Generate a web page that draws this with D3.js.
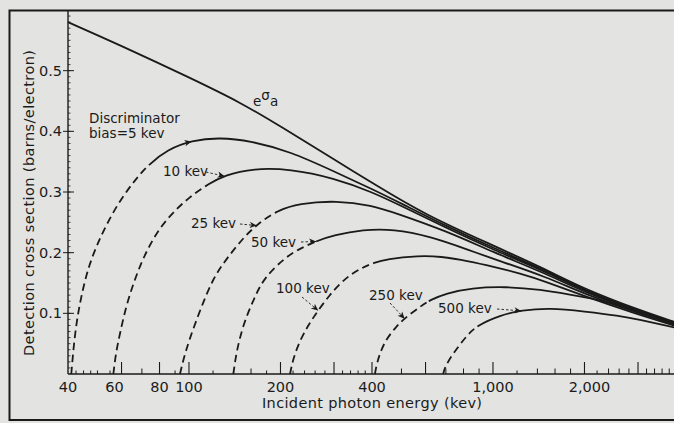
<!DOCTYPE html>
<html><head><meta charset="utf-8">
<script src="https://cdn.jsdelivr.net/npm/d3@7"></script>
<style>
html,body{margin:0;padding:0;background:#e3e3e1;}
svg{display:block;}
text{font-family:"DejaVu Sans",sans-serif;fill:#1b1b1b;}
</style></head><body>
<svg id="c" width="674" height="423"></svg>
<script>
// ---------- data ----------
const sigmaE  = [40,60,100,150,200,300,400,600,1000,1500,2000,3000,4000];
const sigmaV  = [0.580,0.541,0.489,0.446,0.408,0.354,0.315,0.262,0.212,0.172,0.140,0.106,0.085];

const bias5E  = [41,42,43.3,45,47,50,54,59.3,66,73.5,85,102,126,160,215,300,400,500,700,1000,1500,2000,3000,4000];
const bias5V  = [0,0.06,0.105,0.145,0.180,0.215,0.250,0.286,0.318,0.345,0.370,0.385,0.390,0.384,0.367,0.334,0.305,0.281,0.244,0.208,0.170,0.138,0.104,0.084];

const bias10E = [56.4,57.5,59.3,62,65.6,70,74.4,80,88.8,100,114,131,163,215,300,400,500,700,1000,1500,2000,3000,4000];
const bias10V = [0,0.035,0.067,0.11,0.149,0.186,0.213,0.240,0.267,0.291,0.311,0.328,0.339,0.338,0.323,0.300,0.277,0.241,0.205,0.168,0.137,0.103,0.083];

const bias25E = [93.4,96,100,108.7,120,133,150,167,194,230,306,400,480,700,1000,1500,2000,3000,4000];
const bias25V = [0,0.025,0.055,0.105,0.158,0.190,0.223,0.246,0.269,0.281,0.286,0.278,0.265,0.236,0.201,0.165,0.135,0.102,0.082];

const bias50E = [140,143,151,164,176,209,235,262,300,374,470,621,837,1000,1500,2000,3000,4000];
const bias50V = [0,0.035,0.083,0.125,0.158,0.194,0.208,0.219,0.229,0.238,0.239,0.227,0.204,0.190,0.160,0.132,0.100,0.081];

const bias100E = [215,220,232,248,266,290,314,338,365,393,450,570,669,837,1000,1228,1500,2000,3000,4000];
const bias100V = [0,0.025,0.056,0.082,0.105,0.130,0.149,0.163,0.173,0.181,0.190,0.195,0.194,0.186,0.177,0.166,0.152,0.128,0.098,0.079];

const bias250E = [409,415,429,447,480,512,580,621,700,850,1100,1400,2000,2600,3000,4000];
const bias250V = [0,0.018,0.040,0.058,0.078,0.092,0.112,0.122,0.133,0.142,0.144,0.140,0.127,0.114,0.104,0.080];

const bias500E = [686,695,742,819,886,1057,1240,1543,2000,2600,3000,4000];
const bias500V = [0,0.012,0.035,0.063,0.080,0.097,0.105,0.109,0.103,0.096,0.090,0.076];

const biasLabels  = ["5 kev","10 kev","25 kev","50 kev","100 kev","250 kev","500 kev"];
const dashEndE    = [74,116,197,262,405,615,890];   // where dashed part turns solid
const arrowE      = [102,131,167,262,266,512,1240]; // where label arrows point

const xTickValues = [40,60,80,100,200,400,1000,2000];
const xTickText   = ["40","60","80","100","200","400","1,000","2,000"];
const xMajorTicks = [60,80,100,200,300,400,600,1000,2000,3000];
const xMidTicks   = [70,160,500,700,800,900,1400,1600,1800,2400,2600,2800,3200,3400,3600,3800];
const xMinorTicks = [42.5,45,47.5,50,55,90,120,140,180,220,240,260,280,320,340,360,380,1200,2200];
const yTickValues = [0.1,0.2,0.3,0.4,0.5];
const yTickText   = ["0.1","0.2","0.3","0.4","0.5"];

// ---------- drawing ----------
const svg = d3.select("#c");
const ink = "#1a1a1a";
const x = d3.scaleLog().domain([40,4000]).range([68,676]);
const y = d3.scaleLinear().domain([0,0.6]).range([374,10]);

// frame
svg.append("rect").attr("x",9.5).attr("y",10.5).attr("width",700).attr("height",409.5)
  .attr("fill","none").attr("stroke",ink).attr("stroke-width",2);

// axes lines
svg.append("line").attr("x1",68).attr("x2",676).attr("y1",374).attr("y2",374).attr("stroke",ink).attr("stroke-width",1.6);
svg.append("line").attr("x1",68).attr("x2",68).attr("y1",10).attr("y2",374).attr("stroke",ink).attr("stroke-width",1.4);

// x ticks
function xticks(vals,len,w){
  svg.append("g").selectAll("line").data(vals).join("line")
    .attr("x1",d=>x(d)).attr("x2",d=>x(d)).attr("y1",374).attr("y2",374-len)
    .attr("stroke",ink).attr("stroke-width",w);
}
xticks(xMajorTicks,12,1.1); xticks(xMidTicks,5.5,1); xticks(xMinorTicks,3.5,1);
const xLabelShift = {60:-7, 2000:5};
svg.append("g").selectAll("text").data(xTickValues).join("text")
  .attr("x",d=>x(d)+(xLabelShift[d]||0)).attr("y",392).attr("text-anchor","middle")
  .attr("font-size",14.5).text((d,i)=>xTickText[i]);

// y ticks
const yMinor = d3.range(1,60).map(i=>i/100);
svg.append("g").selectAll("line").data(yMinor).join("line")
  .attr("x1",68).attr("x2",70.5).attr("y1",d=>y(d)).attr("y2",d=>y(d)).attr("stroke",ink).attr("stroke-width",0.8);
svg.append("g").selectAll("line").data(yTickValues).join("line")
  .attr("x1",63).attr("x2",74).attr("y1",d=>y(d)).attr("y2",d=>y(d)).attr("stroke",ink).attr("stroke-width",1);
svg.append("g").selectAll("text").data(yTickValues).join("text")
  .attr("x",62).attr("y",d=>y(d)+5).attr("text-anchor","end").attr("font-size",14.5).text((d,i)=>yTickText[i]);

// axis titles
svg.append("text").attr("transform","translate(34,203) rotate(-90)").attr("text-anchor","middle")
  .attr("font-size",14.5).attr("textLength",306).attr("lengthAdjust","spacing")
  .text("Detection cross section (barns/electron)");
svg.append("text").attr("x",372).attr("y",408).attr("text-anchor","middle")
  .attr("font-size",14.5).attr("textLength",220).attr("lengthAdjust","spacing")
  .text("Incident photon energy (kev)");

// curves
const line = d3.line().x(d=>x(d[0])).y(d=>y(d[1])).curve(d3.curveBasis);
const zip = (E,V)=>E.map((e,i)=>[e,V[i]]);
const gC = svg.append("g");
gC.append("path").datum(zip(sigmaE,sigmaV)).attr("d",line)
  .attr("fill","none").attr("stroke",ink).attr("stroke-width",1.8);

const biasSeries = [[bias5E,bias5V],[bias10E,bias10V],[bias25E,bias25V],[bias50E,bias50V],
  [bias100E,bias100V],[bias250E,bias250V],[bias500E,bias500V]];

function lenAtX(node, xs){
  let lo=0, hi=node.getTotalLength();
  for(let k=0;k<40;k++){const m=(lo+hi)/2; if(node.getPointAtLength(m).x<xs) lo=m; else hi=m;}
  return lo;
}
const paths = biasSeries.map((s,i)=>{
  const p = gC.append("path").datum(zip(s[0],s[1])).attr("d",line)
    .attr("fill","none").attr("stroke",ink).attr("stroke-width",1.8);
  const node = p.node();
  const L = node.getTotalLength();
  const L1 = lenAtX(node, x(dashEndE[i]));
  const d=7.5, g=4.5, arr=[]; let s0=0;
  while(s0+d+g<=L1){arr.push(d,g); s0+=d+g;}
  const rem=L1-s0;
  if(rem>0){ if(rem<=d) arr.push(rem,0); else arr.push(d,rem-d); }
  arr.push(L+20,0);
  p.attr("stroke-dasharray",arr.join(","));
  return node;
});

// arrowheads
function arrowHead(tipX,tipY,ang){
  svg.append("path").attr("d","M0,0 L-7,-3.2 L-5,0 L-7,3.2 Z")
    .attr("transform",`translate(${tipX},${tipY}) rotate(${ang*180/Math.PI})`)
    .attr("fill",ink);
}
function tipOn(i){
  const node=paths[i]; const l=lenAtX(node,x(arrowE[i]));
  return node.getPointAtLength(l);
}
// label annotations: [text x, baseline y, leader start x, leader start y]
const ann = [
  null,
  [163,176,206,172],
  [191,228,240,224],
  [251,246.5,301,242],
  [276,293,302,297],
  [369,300,390,303],
  [438,313,497,309]
];
// Discriminator / bias=5 kev
svg.append("text").attr("x",89).attr("y",123).attr("font-size",13.5).text("Discriminator");
svg.append("text").attr("x",89).attr("y",138).attr("font-size",13.5).text("bias=" + biasLabels[0]);
{
  const node=paths[0]; const l=lenAtX(node,x(arrowE[0]));
  const p=node.getPointAtLength(l), q=node.getPointAtLength(l+2);
  arrowHead(p.x,p.y,Math.atan2(q.y-p.y,q.x-p.x));
}
for(let i=1;i<7;i++){
  const a=ann[i];
  svg.append("text").attr("x",a[0]).attr("y",a[1]).attr("font-size",13.5).text(biasLabels[i]);
  const t=tipOn(i);
  svg.append("line").attr("x1",a[2]).attr("y1",a[3]).attr("x2",t.x).attr("y2",t.y)
    .attr("stroke",ink).attr("stroke-width",0.9).attr("stroke-dasharray","2.5,2");
  arrowHead(t.x,t.y,Math.atan2(t.y-a[3],t.x-a[2]));
}
// e sigma_a label
const lab = svg.append("text").attr("x",253).attr("y",106).attr("font-size",13.5);
lab.append("tspan").text("e");
lab.append("tspan").attr("dy",-6).text("σ");
lab.append("tspan").attr("dy",6).text("a");
</script>
</body></html>
